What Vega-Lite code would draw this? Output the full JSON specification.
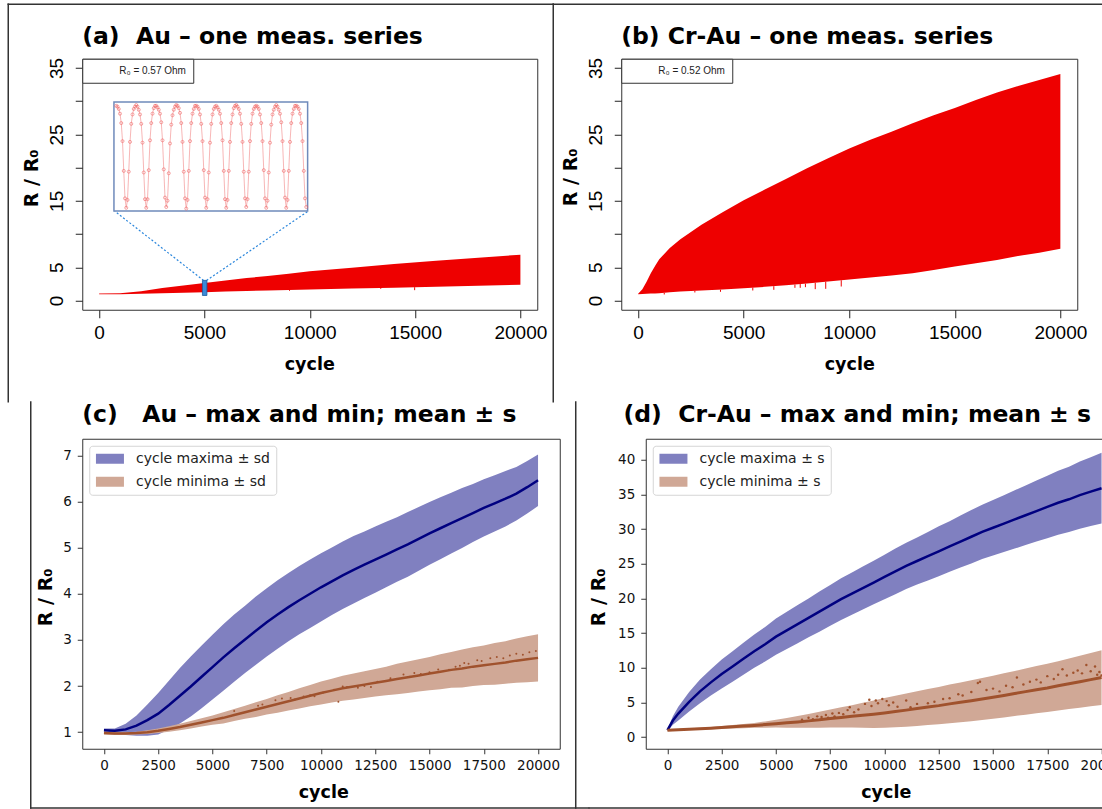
{
"$schema": "https://vega.github.io/schema/vega-lite/v6.json",
"background": "white",
"padding": {"left": 6.25, "top": 1.75, "right": 0, "bottom": 0},
"center": false,
"align": {"row": "none", "column": "all"},
"spacing": -4,
"resolve": {"scale": {"color": "independent"}, "legend": {"color": "independent"}},
"config": {
  "font": "DejaVu Sans",
  "view": {"stroke": "#333", "strokeWidth": 1},
  "axis": {"grid": false, "domain": false, "labelFlush": false, "labelOverlap": false},
  "title": {"font": "DejaVu Sans", "fontWeight": "bold", "fontSize": 23.5, "anchor": "start", "baseline": "alphabetic", "frame": "group", "color": "#000"}
},
"datasets": {
  "aEnv": [{"c":0,"lo":0.95,"hi":1.05},{"c":1000,"lo":0.95,"hi":1.1},{"c":2000,"lo":1.0,"hi":1.4},{"c":3000,"lo":1.08,"hi":1.86},{"c":4000,"lo":1.17,"hi":2.26},{"c":5000,"lo":1.25,"hi":2.61},{"c":6000,"lo":1.34,"hi":3.0},{"c":7000,"lo":1.42,"hi":3.37},{"c":8000,"lo":1.5,"hi":3.67},{"c":9000,"lo":1.58,"hi":4.03},{"c":10000,"lo":1.66,"hi":4.38},{"c":12000,"lo":1.8,"hi":4.93},{"c":14000,"lo":1.93,"hi":5.48},{"c":16000,"lo":2.07,"hi":5.98},{"c":18000,"lo":2.21,"hi":6.44},{"c":20000,"lo":2.36,"hi":6.89}],
  "aSpk": [{"c":9040,"lo":1.45,"hi":1.6},{"c":13370,"lo":1.75,"hi":1.9},{"c":14980,"lo":1.55,"hi":2.0}],
  "aIns": [{"t":0,"r":2.6},{"t":1,"r":2.59},{"t":2,"r":2.56},{"t":3,"r":2.5},{"t":4,"r":2.38},{"t":5,"r":2.15},{"t":6,"r":1.77},{"t":7,"r":1.42},{"t":8,"r":1.3},{"t":9,"r":1.4},{"t":10,"r":1.76},{"t":11,"r":2.14},{"t":12,"r":2.37},{"t":13,"r":2.49},{"t":14,"r":2.56},{"t":15,"r":2.59},
    {"t":16,"r":2.61},{"t":17,"r":2.59},{"t":18,"r":2.55},{"t":19,"r":2.49},{"t":20,"r":2.37},{"t":21,"r":2.13},{"t":22,"r":1.75},{"t":23,"r":1.41},{"t":24,"r":1.3},{"t":25,"r":1.41},{"t":26,"r":1.78},{"t":27,"r":2.16},{"t":28,"r":2.38},{"t":29,"r":2.5},{"t":30,"r":2.57},{"t":31,"r":2.6},
    {"t":32,"r":2.6},{"t":33,"r":2.58},{"t":34,"r":2.55},{"t":35,"r":2.5},{"t":36,"r":2.39},{"t":37,"r":2.16},{"t":38,"r":1.79},{"t":39,"r":1.43},{"t":40,"r":1.31},{"t":41,"r":1.39},{"t":42,"r":1.74},{"t":43,"r":2.12},{"t":44,"r":2.36},{"t":45,"r":2.48},{"t":46,"r":2.55},{"t":47,"r":2.59},
    {"t":48,"r":2.61},{"t":49,"r":2.6},{"t":50,"r":2.57},{"t":51,"r":2.51},{"t":52,"r":2.38},{"t":53,"r":2.14},{"t":54,"r":1.76},{"t":55,"r":1.42},{"t":56,"r":1.29},{"t":57,"r":1.4},{"t":58,"r":1.77},{"t":59,"r":2.15},{"t":60,"r":2.38},{"t":61,"r":2.5},{"t":62,"r":2.56},{"t":63,"r":2.6},
    {"t":64,"r":2.6},{"t":65,"r":2.59},{"t":66,"r":2.56},{"t":67,"r":2.49},{"t":68,"r":2.37},{"t":69,"r":2.15},{"t":70,"r":1.78},{"t":71,"r":1.43},{"t":72,"r":1.3},{"t":73,"r":1.41},{"t":74,"r":1.75},{"t":75,"r":2.13},{"t":76,"r":2.37},{"t":77,"r":2.49},{"t":78,"r":2.56},{"t":79,"r":2.59},
    {"t":80,"r":2.6},{"t":81,"r":2.58},{"t":82,"r":2.55},{"t":83,"r":2.5},{"t":84,"r":2.38},{"t":85,"r":2.16},{"t":86,"r":1.77},{"t":87,"r":1.41},{"t":88,"r":1.3},{"t":89,"r":1.4},{"t":90,"r":1.77},{"t":91,"r":2.14},{"t":92,"r":2.38},{"t":93,"r":2.49},{"t":94,"r":2.57},{"t":95,"r":2.6},
    {"t":96,"r":2.61},{"t":97,"r":2.59},{"t":98,"r":2.56},{"t":99,"r":2.5},{"t":100,"r":2.37},{"t":101,"r":2.14},{"t":102,"r":1.76},{"t":103,"r":1.42},{"t":104,"r":1.31},{"t":105,"r":1.41},{"t":106,"r":1.76},{"t":107,"r":2.15},{"t":108,"r":2.37},{"t":109,"r":2.5},{"t":110,"r":2.56},{"t":111,"r":2.59},
    {"t":112,"r":2.6},{"t":113,"r":2.59},{"t":114,"r":2.56},{"t":115,"r":2.49},{"t":116,"r":2.38},{"t":117,"r":2.15},{"t":118,"r":1.78},{"t":119,"r":1.42},{"t":120,"r":1.3},{"t":121,"r":1.39},{"t":122,"r":1.75},{"t":123,"r":2.13},{"t":124,"r":2.36},{"t":125,"r":2.49},{"t":126,"r":2.55},{"t":127,"r":2.59},
    {"t":128,"r":2.61},{"t":129,"r":2.59},{"t":130,"r":2.55},{"t":131,"r":2.5},{"t":132,"r":2.39},{"t":133,"r":2.15},{"t":134,"r":1.77},{"t":135,"r":1.43},{"t":136,"r":1.3},{"t":137,"r":1.4},{"t":138,"r":1.77},{"t":139,"r":2.14},{"t":140,"r":2.38},{"t":141,"r":2.5},{"t":142,"r":2.56},{"t":143,"r":2.6},
    {"t":144,"r":2.6},{"t":145,"r":2.59},{"t":146,"r":2.56},{"t":147,"r":2.5},{"t":148,"r":2.38},{"t":149,"r":2.15},{"t":150,"r":1.77},{"t":151,"r":1.42},{"t":152,"r":1.31}],
  "bEnv": [{"c":0,"lo":0.95,"hi":1.0},{"c":200,"lo":0.97,"hi":1.7},{"c":400,"lo":1.0,"hi":2.8},{"c":600,"lo":1.03,"hi":4.1},{"c":800,"lo":1.06,"hi":5.2},{"c":1000,"lo":1.1,"hi":6.2},{"c":1500,"lo":1.22,"hi":7.9},{"c":2000,"lo":1.35,"hi":9.2},{"c":2500,"lo":1.43,"hi":10.3},{"c":3000,"lo":1.5,"hi":11.4},{"c":4000,"lo":1.65,"hi":13.3},{"c":5000,"lo":1.85,"hi":15.1},{"c":6000,"lo":2.05,"hi":16.7},{"c":7000,"lo":2.3,"hi":18.3},{"c":8000,"lo":2.55,"hi":19.9},{"c":9000,"lo":2.85,"hi":21.4},{"c":10000,"lo":3.15,"hi":22.9},{"c":11000,"lo":3.45,"hi":24.2},{"c":12000,"lo":3.75,"hi":25.4},{"c":13000,"lo":4.1,"hi":26.7},{"c":14000,"lo":4.6,"hi":27.9},{"c":15000,"lo":5.1,"hi":29.0},{"c":16000,"lo":5.6,"hi":30.2},{"c":17000,"lo":6.1,"hi":31.3},{"c":18000,"lo":6.7,"hi":32.3},{"c":19000,"lo":7.2,"hi":33.2},{"c":20000,"lo":7.8,"hi":34.1}],
  "bSpk": [{"c":1237,"lo":0.9,"hi":1.15},{"c":2687,"lo":1.2,"hi":1.45},{"c":3900,"lo":1.3,"hi":1.63},{"c":5431,"lo":1.5,"hi":1.94},{"c":6427,"lo":1.6,"hi":2.15},{"c":7427,"lo":1.9,"hi":2.4},{"c":7678,"lo":1.9,"hi":2.47},{"c":7924,"lo":2.0,"hi":2.53},{"c":8389,"lo":1.7,"hi":2.67},{"c":8886,"lo":1.75,"hi":2.82},{"c":9621,"lo":2.1,"hi":3.04}],
  "cD": [{"c":0,"a":1.04,"ah":1.08,"al":1.0,"b":0.98,"bh":1.01,"bl":0.95},{"c":500,"a":1.03,"ah":1.08,"al":0.98,"b":0.97,"bh":1.0,"bl":0.94},{"c":1000,"a":1.06,"ah":1.18,"al":0.94,"b":0.97,"bh":1.0,"bl":0.94},{"c":1500,"a":1.14,"ah":1.36,"al":0.92,"b":0.98,"bh":1.01,"bl":0.95},{"c":2000,"a":1.26,"ah":1.6,"al":0.92,"b":1.0,"bh":1.04,"bl":0.96},{"c":2500,"a":1.4,"ah":1.85,"al":0.95,"b":1.03,"bh":1.08,"bl":0.98},{"c":3000,"a":1.59,"ah":2.12,"al":1.06,"b":1.07,"bh":1.13,"bl":1.01},{"c":3500,"a":1.79,"ah":2.39,"al":1.19,"b":1.11,"bh":1.18,"bl":1.04},{"c":4000,"a":1.99,"ah":2.64,"al":1.34,"b":1.16,"bh":1.24,"bl":1.08},{"c":4500,"a":2.2,"ah":2.88,"al":1.52,"b":1.21,"bh":1.3,"bl":1.12},{"c":5000,"a":2.41,"ah":3.11,"al":1.71,"b":1.26,"bh":1.36,"bl":1.16},{"c":5500,"a":2.62,"ah":3.34,"al":1.9,"b":1.31,"bh":1.43,"bl":1.19},{"c":6000,"a":2.82,"ah":3.55,"al":2.09,"b":1.37,"bh":1.5,"bl":1.24},{"c":6500,"a":3.01,"ah":3.74,"al":2.28,"b":1.43,"bh":1.57,"bl":1.29},{"c":7000,"a":3.2,"ah":3.94,"al":2.46,"b":1.49,"bh":1.65,"bl":1.33},{"c":7500,"a":3.38,"ah":4.12,"al":2.64,"b":1.55,"bh":1.72,"bl":1.38},{"c":8000,"a":3.55,"ah":4.29,"al":2.81,"b":1.61,"bh":1.8,"bl":1.42},{"c":8500,"a":3.71,"ah":4.45,"al":2.97,"b":1.67,"bh":1.87,"bl":1.47},{"c":9000,"a":3.86,"ah":4.6,"al":3.12,"b":1.73,"bh":1.95,"bl":1.51},{"c":9500,"a":4.0,"ah":4.74,"al":3.26,"b":1.79,"bh":2.02,"bl":1.56},{"c":10000,"a":4.14,"ah":4.88,"al":3.4,"b":1.85,"bh":2.1,"bl":1.6},{"c":10500,"a":4.27,"ah":5.0,"al":3.54,"b":1.9,"bh":2.16,"bl":1.64},{"c":11000,"a":4.4,"ah":5.13,"al":3.67,"b":1.95,"bh":2.22,"bl":1.68},{"c":11500,"a":4.52,"ah":5.25,"al":3.79,"b":1.99,"bh":2.27,"bl":1.71},{"c":12000,"a":4.63,"ah":5.35,"al":3.91,"b":2.03,"bh":2.32,"bl":1.74},{"c":12500,"a":4.74,"ah":5.46,"al":4.02,"b":2.07,"bh":2.37,"bl":1.77},{"c":13000,"a":4.85,"ah":5.56,"al":4.14,"b":2.11,"bh":2.42,"bl":1.8},{"c":13500,"a":4.96,"ah":5.66,"al":4.26,"b":2.15,"bh":2.48,"bl":1.82},{"c":14000,"a":5.07,"ah":5.77,"al":4.37,"b":2.19,"bh":2.53,"bl":1.85},{"c":14500,"a":5.19,"ah":5.88,"al":4.5,"b":2.23,"bh":2.58,"bl":1.88},{"c":15000,"a":5.31,"ah":5.99,"al":4.63,"b":2.27,"bh":2.63,"bl":1.91},{"c":15500,"a":5.42,"ah":6.09,"al":4.75,"b":2.31,"bh":2.69,"bl":1.93},{"c":16000,"a":5.53,"ah":6.19,"al":4.87,"b":2.35,"bh":2.74,"bl":1.96},{"c":16500,"a":5.64,"ah":6.29,"al":4.99,"b":2.38,"bh":2.79,"bl":1.97},{"c":17000,"a":5.75,"ah":6.38,"al":5.12,"b":2.42,"bh":2.84,"bl":2.0},{"c":17500,"a":5.86,"ah":6.48,"al":5.24,"b":2.45,"bh":2.88,"bl":2.02},{"c":18000,"a":5.96,"ah":6.57,"al":5.35,"b":2.48,"bh":2.93,"bl":2.03},{"c":18500,"a":6.06,"ah":6.66,"al":5.46,"b":2.51,"bh":2.97,"bl":2.05},{"c":19000,"a":6.17,"ah":6.75,"al":5.59,"b":2.55,"bh":3.03,"bl":2.07},{"c":19500,"a":6.31,"ah":6.88,"al":5.74,"b":2.58,"bh":3.08,"bl":2.08},{"c":20000,"a":6.46,"ah":7.02,"al":5.9,"b":2.61,"bh":3.12,"bl":2.1}],
  "cP": [{"c":6000,"v":1.46},{"c":7100,"v":1.57},{"c":7300,"v":1.6},{"c":7900,"v":1.69},{"c":8200,"v":1.73},{"c":8600,"v":1.74},{"c":8800,"v":1.71},{"c":9200,"v":1.77},{"c":9500,"v":1.8},{"c":9700,"v":1.78},{"c":10100,"v":1.86},{"c":10600,"v":1.92},{"c":10800,"v":1.66},{"c":11000,"v":1.99},{"c":11200,"v":1.98},{"c":11700,"v":1.96},{"c":12000,"v":2.0},{"c":12300,"v":1.98},{"c":12600,"v":2.09},{"c":13200,"v":2.17},{"c":13800,"v":2.25},{"c":14100,"v":2.2},{"c":14300,"v":2.28},{"c":14600,"v":2.26},{"c":15000,"v":2.3},{"c":15400,"v":2.36},{"c":15900,"v":2.35},{"c":16200,"v":2.42},{"c":16400,"v":2.44},{"c":16600,"v":2.5},{"c":16800,"v":2.48},{"c":17200,"v":2.56},{"c":17400,"v":2.54},{"c":17800,"v":2.6},{"c":18100,"v":2.63},{"c":18400,"v":2.6},{"c":18700,"v":2.66},{"c":19000,"v":2.7},{"c":19300,"v":2.68},{"c":19600,"v":2.73},{"c":19900,"v":2.76}],
  "dD": [{"c":0,"a":1.0,"ah":1.1,"al":0.9,"b":1.0,"bh":1.1,"bl":0.9},{"c":250,"a":2.4,"ah":3.0,"al":1.8,"b":1.03,"bh":1.14,"bl":0.93},{"c":500,"a":3.4,"ah":4.4,"al":2.4,"b":1.07,"bh":1.18,"bl":0.96},{"c":1000,"a":5.1,"ah":6.5,"al":3.7,"b":1.15,"bh":1.27,"bl":1.03},{"c":1500,"a":6.6,"ah":8.3,"al":4.9,"b":1.22,"bh":1.35,"bl":1.09},{"c":2000,"a":7.9,"ah":9.8,"al":6.0,"b":1.3,"bh":1.45,"bl":1.15},{"c":2500,"a":9.1,"ah":11.2,"al":7.0,"b":1.4,"bh":1.6,"bl":1.2},{"c":3000,"a":10.2,"ah":12.4,"al":8.0,"b":1.5,"bh":1.75,"bl":1.25},{"c":3500,"a":11.3,"ah":13.6,"al":9.0,"b":1.6,"bh":1.9,"bl":1.3},{"c":4000,"a":12.4,"ah":14.8,"al":10.0,"b":1.7,"bh":2.05,"bl":1.35},{"c":4500,"a":13.4,"ah":15.9,"al":10.9,"b":1.82,"bh":2.27,"bl":1.37},{"c":5000,"a":14.5,"ah":17.1,"al":11.9,"b":1.95,"bh":2.5,"bl":1.4},{"c":5500,"a":15.4,"ah":18.1,"al":12.7,"b":2.07,"bh":2.77,"bl":1.37},{"c":6000,"a":16.3,"ah":19.05,"al":13.55,"b":2.2,"bh":3.05,"bl":1.35},{"c":6500,"a":17.2,"ah":20.0,"al":14.4,"b":2.35,"bh":3.35,"bl":1.35},{"c":7000,"a":18.1,"ah":21.0,"al":15.2,"b":2.5,"bh":3.65,"bl":1.35},{"c":7500,"a":19.0,"ah":21.95,"al":16.05,"b":2.7,"bh":4.0,"bl":1.4},{"c":8000,"a":19.9,"ah":22.9,"al":16.9,"b":2.85,"bh":4.3,"bl":1.4},{"c":8500,"a":20.7,"ah":23.75,"al":17.65,"b":3.0,"bh":4.62,"bl":1.38},{"c":9000,"a":21.5,"ah":24.6,"al":18.4,"b":3.15,"bh":4.95,"bl":1.35},{"c":9500,"a":22.3,"ah":25.45,"al":19.15,"b":3.32,"bh":5.3,"bl":1.34},{"c":10000,"a":23.1,"ah":26.3,"al":19.9,"b":3.5,"bh":5.65,"bl":1.35},{"c":10500,"a":23.9,"ah":27.2,"al":20.6,"b":3.7,"bh":5.98,"bl":1.42},{"c":11000,"a":24.7,"ah":28.05,"al":21.35,"b":3.9,"bh":6.3,"bl":1.5},{"c":11500,"a":25.4,"ah":28.8,"al":22.0,"b":4.12,"bh":6.62,"bl":1.62},{"c":12000,"a":26.1,"ah":29.6,"al":22.6,"b":4.35,"bh":6.95,"bl":1.75},{"c":12500,"a":26.8,"ah":30.4,"al":23.2,"b":4.55,"bh":7.25,"bl":1.85},{"c":13000,"a":27.5,"ah":31.15,"al":23.85,"b":4.8,"bh":7.6,"bl":2.0},{"c":13500,"a":28.2,"ah":31.95,"al":24.45,"b":5.02,"bh":7.9,"bl":2.14},{"c":14000,"a":28.9,"ah":32.75,"al":25.05,"b":5.25,"bh":8.2,"bl":2.3},{"c":14500,"a":29.6,"ah":33.5,"al":25.7,"b":5.5,"bh":8.52,"bl":2.48},{"c":15000,"a":30.2,"ah":34.2,"al":26.2,"b":5.75,"bh":8.85,"bl":2.65},{"c":15500,"a":30.8,"ah":34.9,"al":26.7,"b":6.02,"bh":9.2,"bl":2.84},{"c":16000,"a":31.4,"ah":35.6,"al":27.2,"b":6.3,"bh":9.55,"bl":3.05},{"c":16500,"a":32.0,"ah":36.3,"al":27.7,"b":6.57,"bh":9.89,"bl":3.25},{"c":17000,"a":32.6,"ah":37.0,"al":28.2,"b":6.85,"bh":10.25,"bl":3.45},{"c":17500,"a":33.2,"ah":37.7,"al":28.7,"b":7.1,"bh":10.58,"bl":3.62},{"c":18000,"a":33.8,"ah":38.4,"al":29.2,"b":7.4,"bh":10.95,"bl":3.85},{"c":18500,"a":34.3,"ah":39.0,"al":29.6,"b":7.7,"bh":11.35,"bl":4.05},{"c":19000,"a":34.9,"ah":39.75,"al":30.05,"b":8.0,"bh":11.75,"bl":4.25},{"c":19500,"a":35.4,"ah":40.35,"al":30.45,"b":8.3,"bh":12.15,"bl":4.45},{"c":20000,"a":35.9,"ah":41.0,"al":30.8,"b":8.6,"bh":12.55,"bl":4.65}],
  "dP": [{"c":6200,"v":2.5},{"c":6500,"v":2.8},{"c":6700,"v":2.6},{"c":6900,"v":3.0},{"c":7100,"v":2.9},{"c":7300,"v":3.2},{"c":7400,"v":2.8},{"c":7600,"v":3.4},{"c":7700,"v":3.0},{"c":7900,"v":3.5},{"c":8100,"v":3.3},{"c":8300,"v":3.9},{"c":8400,"v":4.3},{"c":8600,"v":3.6},{"c":8800,"v":4.0},{"c":9100,"v":4.8},{"c":9300,"v":5.4},{"c":9400,"v":4.5},{"c":9600,"v":5.3},{"c":9700,"v":4.9},{"c":9900,"v":5.5},{"c":10100,"v":5.2},{"c":10200,"v":4.6},{"c":10400,"v":5.0},{"c":10600,"v":4.4},{"c":11000,"v":5.3},{"c":11200,"v":4.3},{"c":11500,"v":4.8},{"c":12000,"v":4.9},{"c":12300,"v":5.1},{"c":12700,"v":5.5},{"c":13000,"v":5.6},{"c":13400,"v":6.2},{"c":13600,"v":6.0},{"c":14000,"v":6.5},{"c":14300,"v":7.8},{"c":14400,"v":8.0},{"c":14700,"v":6.8},{"c":15000,"v":7.0},{"c":15300,"v":6.6},{"c":15600,"v":7.4},{"c":15900,"v":7.2},{"c":16100,"v":8.6},{"c":16400,"v":7.6},{"c":16700,"v":8.0},{"c":17000,"v":8.3},{"c":17200,"v":7.9},{"c":17500,"v":8.8},{"c":17800,"v":8.4},{"c":18000,"v":9.0},{"c":18200,"v":9.8},{"c":18400,"v":8.9},{"c":18700,"v":9.3},{"c":18900,"v":9.6},{"c":19100,"v":9.2},{"c":19300,"v":10.4},{"c":19500,"v":9.5},{"c":19700,"v":10.2},{"c":19800,"v":9.0},{"c":19900,"v":9.4},{"c":20000,"v":8.9}]
},
"vconcat": [
 {"hconcat": [
  {
   "width": 455, "height": 251,
   "title": {"text": "(a)\u00a0 Au – one meas. series", "offset": -45.25},
   "layer": [
    {"layer": [
     {"data": {"name": "aEnv"},
      "mark": {"type": "area", "color": "#ee0000"},
      "encoding": {
       "x": {"field": "c", "type": "quantitative", "scale": {"domain": [-800, 20800], "nice": false, "zero": false},
             "axis": {"title": "cycle", "values": [0,5000,10000,15000,20000], "format": "d", "labelOverlap": false, "tickSize": 8, "tickColor": "#222", "labelFont": "Liberation Sans", "labelFontSize": 19, "labelColor": "#000", "labelPadding": 6, "titleFont": "DejaVu Sans", "titleFontWeight": "bold", "titleFontSize": 17.5, "titleColor": "#000", "titleBaseline": "alphabetic", "titleAlign": "center", "titleX": 227, "titleY": 60}},
       "y": {"field": "hi", "type": "quantitative", "scale": {"domain": [-1.4, 36.4], "nice": false, "zero": false},
             "axis": {"title": "R / R₀", "values": [0,5,10,15,20,25,30,35], "tickCount": 20, "format": "d", "labelExpr": "(datum.value == 0 || datum.value % 10 == 5) ? datum.label : ''", "labelOverlap": false, "tickSize": 7, "tickColor": "#222", "labelFont": "Liberation Sans", "labelFontSize": 19, "labelColor": "#000", "labelAngle": 270, "labelAlign": "center", "labelBaseline": "bottom", "labelPadding": 9, "titleFont": "DejaVu Sans", "titleFontWeight": "bold", "titleFontSize": 19, "titleColor": "#000", "titleAngle": 270, "titleAlign": "center", "titleBaseline": "alphabetic", "titleX": -44.5, "titleY": 119}},
       "y2": {"field": "lo"},
       "color": {"datum": "R₀ = 0.57 Ohm", "type": "nominal", "scale": {"domain": ["R₀ = 0.57 Ohm"], "range": ["#ee0000"]},
                 "legend": {"orient": "top-left", "offset": 0, "title": null, "padding": 7, "strokeColor": "#333", "fillColor": "#ffffff", "cornerRadius": 0, "symbolSize": 0, "symbolOpacity": 0, "symbolStrokeWidth": 0, "labelOffset": 20, "labelFont": "Liberation Sans", "labelFontSize": 10, "labelColor": "#222"}}
      }},
     {"data": {"name": "aSpk"}, "mark": {"type": "rule", "color": "#ee0000", "strokeWidth": 1},
      "encoding": {"x": {"field": "c", "type": "quantitative"}, "y": {"field": "lo", "type": "quantitative"}, "y2": {"field": "hi"}}},
     {"data": {"values": [{}]}, "mark": {"type": "rule", "color": "#2a86dc", "strokeDash": [2, 2], "strokeWidth": 1.2},
      "encoding": {"x": {"datum": 4960}, "y": {"datum": 3.02}, "x2": {"datum": 744}, "y2": {"datum": 13.44}}},
     {"data": {"values": [{}]}, "mark": {"type": "rule", "color": "#2a86dc", "strokeDash": [2, 2], "strokeWidth": 1.2},
      "encoding": {"x": {"datum": 5100}, "y": {"datum": 3.02}, "x2": {"datum": 9924}, "y2": {"datum": 13.44}}},
     {"data": {"values": [{}]}, "mark": {"type": "rect", "fill": "#3b8ad8", "stroke": "#1d5a9e", "strokeWidth": 0.8},
      "encoding": {"x": {"datum": 4905}, "x2": {"datum": 5118}, "y": {"datum": 0.75}, "y2": {"datum": 3.02}}},
     {"data": {"values": [{}]}, "mark": {"type": "rule", "color": "#333", "strokeWidth": 1.5, "strokeCap": "square"},
      "encoding": {"x": {"datum": -4313}, "y": {"datum": 44.61}, "y2": {"datum": -15.255}}},
     {"data": {"values": [{}]}, "mark": {"type": "rule", "color": "#333", "strokeWidth": 1.5, "strokeCap": "square"},
      "encoding": {"x": {"datum": 21559.6}, "y": {"datum": 44.61}, "y2": {"datum": -15.255}}},
     {"data": {"values": [{}]}, "mark": {"type": "rule", "color": "#333", "strokeWidth": 1.5, "strokeCap": "square"},
      "encoding": {"x": {"datum": -4313}, "x2": {"datum": 21559.6}, "y": {"datum": 44.61}}}
    ]},
    {"layer": [
     {"data": {"values": [{}]}, "mark": {"type": "rect", "fill": "#ffffff", "stroke": "#6f8abb", "strokeWidth": 1.5},
      "encoding": {"x": {"datum": -1.84, "type": "quantitative", "scale": {"domain": [-27.2, 336.8], "nice": false, "zero": false}, "axis": null}, "x2": {"datum": 153.1},
                   "y": {"datum": 1.258, "type": "quantitative", "scale": {"domain": [0, 3.2], "nice": false, "zero": false}, "axis": null}, "y2": {"datum": 2.648}}},
     {"data": {"name": "aIns"}, "mark": {"type": "line", "color": "#f5a3a3", "strokeWidth": 0.8},
      "encoding": {"x": {"field": "t", "type": "quantitative", "axis": null}, "y": {"field": "r", "type": "quantitative", "axis": null}}},
     {"data": {"name": "aIns"}, "mark": {"type": "point", "shape": "circle", "filled": false, "color": "#f06262", "size": 9, "strokeWidth": 0.8, "opacity": 0.75},
      "encoding": {"x": {"field": "t", "type": "quantitative", "axis": null}, "y": {"field": "r", "type": "quantitative", "axis": null}}}
    ]}
   ],
   "resolve": {"scale": {"x": "independent", "y": "independent"}}
  },
  {
   "width": 456, "height": 251,
   "title": {"text": "(b) Cr-Au – one meas. series", "offset": -45.25},
   "layer": [
     {"data": {"name": "bEnv"},
      "mark": {"type": "area", "color": "#ee0000"},
      "encoding": {
       "x": {"field": "c", "type": "quantitative", "scale": {"domain": [-800, 20800], "nice": false, "zero": false},
             "axis": {"title": "cycle", "values": [0,5000,10000,15000,20000], "format": "d", "labelOverlap": false, "tickSize": 8, "tickColor": "#222", "labelFont": "Liberation Sans", "labelFontSize": 19, "labelColor": "#000", "labelPadding": 6, "titleFont": "DejaVu Sans", "titleFontWeight": "bold", "titleFontSize": 17.5, "titleColor": "#000", "titleBaseline": "alphabetic", "titleAlign": "center", "titleX": 228, "titleY": 60}},
       "y": {"field": "hi", "type": "quantitative", "scale": {"domain": [-1.4, 36.4], "nice": false, "zero": false},
             "axis": {"title": "R / R₀", "values": [0,5,10,15,20,25,30,35], "tickCount": 20, "format": "d", "labelExpr": "(datum.value == 0 || datum.value % 10 == 5) ? datum.label : ''", "labelOverlap": false, "tickSize": 7, "tickColor": "#222", "labelFont": "Liberation Sans", "labelFontSize": 19, "labelColor": "#000", "labelAngle": 270, "labelAlign": "center", "labelBaseline": "bottom", "labelPadding": 9, "titleFont": "DejaVu Sans", "titleFontWeight": "bold", "titleFontSize": 19, "titleColor": "#000", "titleAngle": 270, "titleAlign": "center", "titleBaseline": "alphabetic", "titleX": -44.5, "titleY": 118}},
       "y2": {"field": "lo"},
       "color": {"datum": "R₀ = 0.52 Ohm", "type": "nominal", "scale": {"domain": ["R₀ = 0.52 Ohm"], "range": ["#ee0000"]},
                 "legend": {"orient": "top-left", "offset": 0, "title": null, "padding": 7, "strokeColor": "#333", "fillColor": "#ffffff", "cornerRadius": 0, "symbolSize": 0, "symbolOpacity": 0, "symbolStrokeWidth": 0, "labelOffset": 20, "labelFont": "Liberation Sans", "labelFontSize": 10, "labelColor": "#222"}}
      }},
     {"data": {"name": "bSpk"}, "mark": {"type": "rule", "color": "#ee0000", "strokeWidth": 1},
      "encoding": {"x": {"field": "c", "type": "quantitative"}, "y": {"field": "lo", "type": "quantitative"}, "y2": {"field": "hi"}}},
     {"data": {"values": [{}]}, "mark": {"type": "rule", "color": "#333", "strokeWidth": 1.5, "strokeCap": "square"},
      "encoding": {"x": {"datum": -4021}, "x2": {"datum": 21984.5}, "y": {"datum": 44.61}}}
   ]
  }
 ], "spacing": 84, "bounds": "flush", "resolve": {"scale": {"color": "independent"}, "legend": {"color": "independent"}}},
 {"hconcat": [
  {
   "width": 477.5, "height": 310,
   "title": {"text": "(c)\u00a0\u00a0 Au – max and min; mean ± s", "offset": -25.45},
   "layer": [
     {"data": {"name": "cD"}, "mark": {"type": "area"},
      "encoding": {
       "x": {"field": "c", "type": "quantitative", "scale": {"domain": [-1000, 21000], "nice": false, "zero": false},
             "axis": {"title": "cycle", "values": [0,2500,5000,7500,10000,12500,15000,17500,20000], "format": "d", "tickSize": 5, "tickColor": "#333", "labelFont": "DejaVu Sans", "labelFontSize": 13.5, "labelColor": "#111", "labelPadding": 5, "titleFont": "DejaVu Sans", "titleFontWeight": "bold", "titleFontSize": 17.5, "titleColor": "#000", "titleBaseline": "alphabetic", "titleAlign": "center", "titleX": 241, "titleY": 48.4}},
       "y": {"field": "ah", "type": "quantitative", "scale": {"domain": [0.64, 7.36], "nice": false, "zero": false},
             "axis": {"title": "R / R₀", "values": [1,2,3,4,5,6,7], "format": "d", "tickCount": 20, "tickSize": 5, "tickColor": "#333", "labelFont": "DejaVu Sans", "labelFontSize": 13.5, "labelColor": "#111", "labelPadding": 6, "titleFont": "DejaVu Sans", "titleFontWeight": "bold", "titleFontSize": 19, "titleColor": "#000", "titleAngle": 270, "titleAlign": "center", "titleBaseline": "alphabetic", "titleX": -30.5, "titleY": 158}},
       "y2": {"field": "al"},
       "color": {"datum": "cycle maxima ± sd", "type": "nominal", "scale": {"domain": ["cycle maxima ± sd", "cycle minima ± sd"], "range": ["#8080c0", "#d0a896"]},
                 "legend": {"orient": "top-left", "offset": 7, "title": null, "padding": 6, "strokeColor": "#d5d5d5", "fillColor": "#ffffff", "cornerRadius": 3, "symbolType": "M-2,-0.714H2V0.714H-2Z", "symbolSize": 196, "symbolStrokeWidth": 0, "symbolOpacity": 1, "symbolOffset": 7.7, "labelOffset": 19, "labelFont": "DejaVu Sans", "labelFontSize": 14, "labelColor": "#222", "rowPadding": 9}}
      }},
     {"data": {"name": "cD"}, "mark": {"type": "line", "color": "#000080", "strokeWidth": 2.5},
      "encoding": {"x": {"field": "c", "type": "quantitative"}, "y": {"field": "a", "type": "quantitative"}}},
     {"data": {"name": "cD"}, "mark": {"type": "area"},
      "encoding": {"x": {"field": "c", "type": "quantitative"}, "y": {"field": "bh", "type": "quantitative"}, "y2": {"field": "bl"},
                   "color": {"datum": "cycle minima ± sd", "type": "nominal"}}},
     {"data": {"name": "cD"}, "mark": {"type": "line", "color": "#a0522d", "strokeWidth": 2.5},
      "encoding": {"x": {"field": "c", "type": "quantitative"}, "y": {"field": "b", "type": "quantitative"}}},
     {"data": {"name": "cP"}, "mark": {"type": "circle", "color": "#a0522d", "size": 4, "opacity": 1},
      "encoding": {"x": {"field": "c", "type": "quantitative"}, "y": {"field": "v", "type": "quantitative"}}},
     {"data": {"values": [{}]}, "mark": {"type": "rule", "color": "#333", "strokeWidth": 1.5, "strokeCap": "square"},
      "encoding": {"x": {"datum": -3372.7}, "y": {"datum": 8.158}, "y2": {"datum": -0.643}}},
     {"data": {"values": [{}]}, "mark": {"type": "rule", "color": "#333", "strokeWidth": 1.5, "strokeCap": "square"},
      "encoding": {"x": {"datum": 21736.7}, "y": {"datum": 8.158}, "y2": {"datum": -0.643}}},
     {"data": {"values": [{}]}, "mark": {"type": "rule", "color": "#333", "strokeWidth": 1.5, "strokeCap": "square"},
      "encoding": {"x": {"datum": -3372.7}, "x2": {"datum": 22335.6}, "y": {"datum": -0.643}}}
   ]
  },
  {
   "width": 477.5, "height": 310,
   "title": {"text": "(d)\u00a0 Cr-Au – max and min; mean ± s", "offset": 12.1, "anchor": "middle", "frame": "bounds"},
   "layer": [
     {"data": {"name": "dD"}, "mark": {"type": "area"},
      "encoding": {
       "x": {"field": "c", "type": "quantitative", "scale": {"domain": [-1000, 21000], "nice": false, "zero": false},
             "axis": {"title": "cycle", "values": [0,2500,5000,7500,10000,12500,15000,17500,20000], "format": "d", "tickSize": 5, "tickColor": "#333", "labelFont": "DejaVu Sans", "labelFontSize": 13.5, "labelColor": "#111", "labelPadding": 5, "titleFont": "DejaVu Sans", "titleFontWeight": "bold", "titleFontSize": 17.5, "titleColor": "#000", "titleBaseline": "alphabetic", "titleAlign": "center", "titleX": 240, "titleY": 48.4}},
       "y": {"field": "ah", "type": "quantitative", "scale": {"domain": [-1.67, 43.03], "nice": false, "zero": false},
             "axis": {"title": "R / R₀", "values": [0,5,10,15,20,25,30,35,40], "format": "d", "tickCount": 20, "tickSize": 5, "tickColor": "#333", "labelFont": "DejaVu Sans", "labelFontSize": 13.5, "labelColor": "#111", "labelPadding": 6, "titleFont": "DejaVu Sans", "titleFontWeight": "bold", "titleFontSize": 19, "titleColor": "#000", "titleAngle": 270, "titleAlign": "center", "titleBaseline": "alphabetic", "titleX": -41.5, "titleY": 158}},
       "y2": {"field": "al"},
       "color": {"datum": "cycle maxima ± s", "type": "nominal", "scale": {"domain": ["cycle maxima ± s", "cycle minima ± s"], "range": ["#8080c0", "#d0a896"]},
                 "legend": {"orient": "top-left", "offset": 7, "title": null, "padding": 6, "strokeColor": "#d5d5d5", "fillColor": "#ffffff", "cornerRadius": 3, "symbolType": "M-2,-0.714H2V0.714H-2Z", "symbolSize": 196, "symbolStrokeWidth": 0, "symbolOpacity": 1, "symbolOffset": 7.7, "labelOffset": 19, "labelFont": "DejaVu Sans", "labelFontSize": 14, "labelColor": "#222", "rowPadding": 9}}
      }},
     {"data": {"name": "dD"}, "mark": {"type": "line", "color": "#000080", "strokeWidth": 2.5},
      "encoding": {"x": {"field": "c", "type": "quantitative"}, "y": {"field": "a", "type": "quantitative"}}},
     {"data": {"name": "dD"}, "mark": {"type": "area"},
      "encoding": {"x": {"field": "c", "type": "quantitative"}, "y": {"field": "bh", "type": "quantitative"}, "y2": {"field": "bl"},
                   "color": {"datum": "cycle minima ± s", "type": "nominal"}}},
     {"data": {"name": "dD"}, "mark": {"type": "line", "color": "#a0522d", "strokeWidth": 3},
      "encoding": {"x": {"field": "c", "type": "quantitative"}, "y": {"field": "b", "type": "quantitative"}}},
     {"data": {"name": "dP"}, "mark": {"type": "circle", "color": "#a0522d", "size": 6, "opacity": 1},
      "encoding": {"x": {"field": "c", "type": "quantitative"}, "y": {"field": "v", "type": "quantitative"}}},
     {"data": {"values": [{}]}, "mark": {"type": "rule", "color": "#333", "strokeWidth": 1.5, "strokeCap": "square"},
      "encoding": {"x": {"datum": -3603}, "x2": {"datum": 21091.7}, "y": {"datum": -10.207}}}
   ]
  }
 ], "spacing": 85.5, "bounds": "flush", "resolve": {"scale": {"color": "independent"}, "legend": {"color": "independent"}}}
]
}
